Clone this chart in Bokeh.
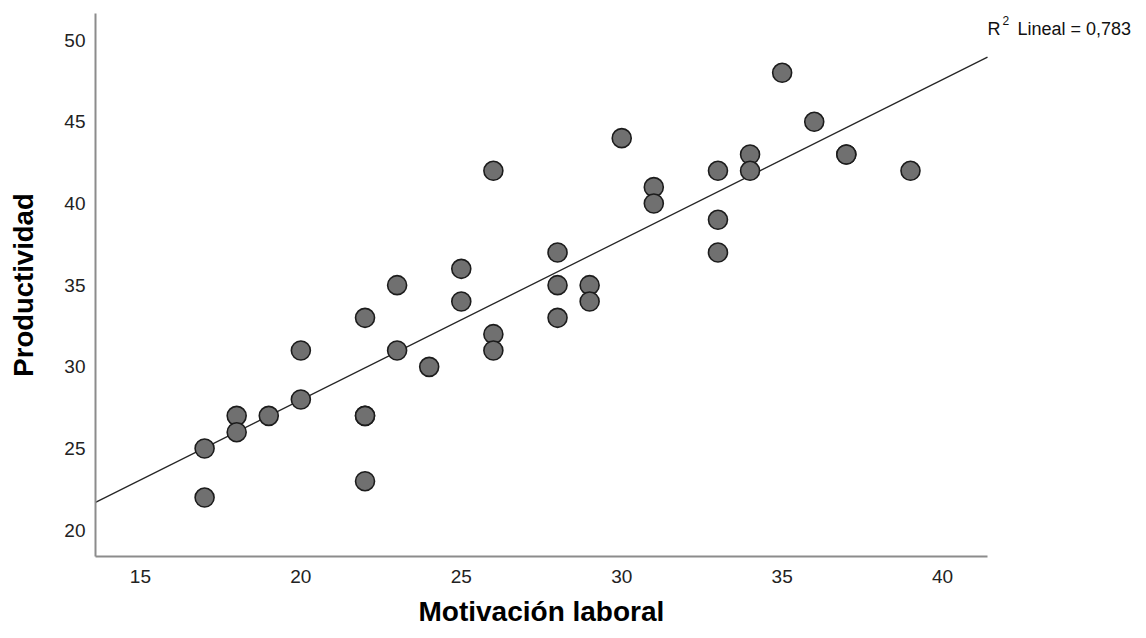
import numpy as np
from bokeh.plotting import figure
from bokeh.models import Range1d, Label, Title
from bokeh.embed import file_html
from bokeh.resources import INLINE

# Data
motivacion = [17, 17, 18, 18, 19, 20, 20, 22, 22, 22, 22, 23, 23, 24, 25, 25, 26, 26, 26,
              28, 28, 28, 29, 29, 30, 31, 31, 33, 33, 33, 34, 34, 35, 36, 37, 37, 39]
productividad = [25, 22, 27, 26, 27, 31, 28, 33, 27, 27, 23, 35, 31, 30, 36, 34, 42, 32, 31,
                 37, 35, 33, 35, 34, 44, 41, 40, 42, 39, 37, 43, 42, 48, 45, 43, 43, 42]
x_ticks = [15, 20, 25, 30, 35, 40]
y_ticks = [20, 25, 30, 35, 40, 45, 50]
r2_text = "0,783"

FONT = "Liberation Sans"
XMIN, XMAX = 13.60, 41.40
YMIN, YMAX = 18.39, 51.63

W, H = 1140, 638
LEFT, TOP, BOTTOM = 95, 13, 82
AXIS_W = 892         # drawn x-axis length in px
ppu = AXIS_W / (XMAX - XMIN)
XEND = XMAX + (W - LEFT - AXIS_W) / ppu   # frame extends to the right edge (room for R² note)

p = figure(width=W, height=H, output_backend="svg", toolbar_location=None,
           x_range=Range1d(XMIN, XEND), y_range=Range1d(YMIN, YMAX),
           min_border_left=LEFT, min_border_right=0, min_border_top=TOP, min_border_bottom=BOTTOM)
p.outline_line_color = None
p.grid.visible = False
p.background_fill_color = "white"
p.border_fill_color = "white"

for ax in (p.xaxis[0], p.yaxis[0]):
    ax.axis_line_color = "#8c8c8c"
    ax.axis_line_width = 2
    ax.major_tick_line_color = None
    ax.minor_tick_line_color = None
    ax.major_tick_out = 0
    ax.major_tick_in = 0
    ax.major_label_text_font = FONT
    ax.major_label_text_font_size = "19px"
    ax.major_label_text_color = "#222222"
    ax.axis_label_text_font = FONT
    ax.axis_label_text_font_style = "bold"
    ax.axis_label_text_font_size = "27.5px"
    ax.axis_label_text_color = "#000000"

p.xaxis.bounds = (XMIN, XMAX)
p.xaxis.ticker = x_ticks
p.yaxis.ticker = y_ticks
p.yaxis.axis_label = "Productividad"
p.xaxis.major_label_standoff = 13
p.xaxis.major_label_text_line_height = 0.6
p.yaxis.major_label_standoff = 10
p.yaxis.axis_label_standoff = 22

# x-axis title centred under the drawn axis (not under the whole frame)
xtitle = "Motivación laboral"
p.add_layout(Title(text=xtitle, align="left", offset=323, standoff=16,
                   text_font=FONT, text_font_size="28px", text_font_style="bold",
                   text_color="#000000"), "below")

# Linear fit
xs = np.array(motivacion, dtype=float)
ys = np.array(productividad, dtype=float)
slope, intercept = np.polyfit(xs, ys, 1)
lx = np.array([XMIN, XMAX])
p.line(lx, intercept + slope * lx, line_color="#262626", line_width=1.3)

p.scatter(motivacion, productividad, size=19, fill_color="#707070",
          line_color="#1c1c1c", line_width=1.6)

ylab = YMAX - 1.35
p.add_layout(Label(x=XMAX, y=ylab, x_offset=0, y_offset=7, text="R", text_font=FONT,
                   text_font_size="18px", text_color="#111111", text_baseline="alphabetic"))
p.add_layout(Label(x=XMAX, y=ylab, x_offset=15, y_offset=15, text="2", text_font=FONT,
                   text_font_size="12px", text_color="#111111", text_baseline="alphabetic"))
p.add_layout(Label(x=XMAX, y=ylab, x_offset=30, y_offset=7, text="Lineal = " + r2_text, text_font=FONT,
                   text_font_size="18px", text_color="#111111", text_baseline="alphabetic"))

open("out.html", "w").write(file_html(p, INLINE))
